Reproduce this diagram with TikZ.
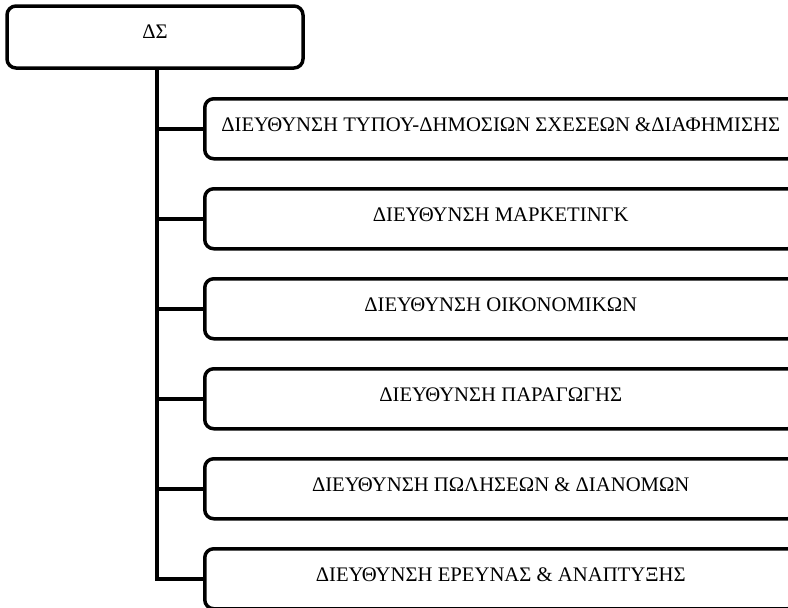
\documentclass[tikz,border=0pt]{standalone}
\usepackage{fontspec}
\setmainfont{Liberation Serif}
\usepackage{tikz}
\usetikzlibrary{positioning}
\tikzset{
  unit/.style={draw,line width=3.5pt,rounded corners=9pt,inner sep=0pt,
    minimum width=592pt,minimum height=60pt,text height=14pt,text depth=9pt,
    font=\fontsize{20.7}{24}\selectfont},
  board/.style={unit,minimum width=296pt,minimum height=62pt},
  link/.style={line width=4pt}
}
\begin{document}
\begin{tikzpicture}[x=1pt,y=-1pt]
  \useasboundingbox (0,0) rectangle (788,608);
  \clip (0,0) rectangle (788,608);
  \node[board,text depth=12pt] (ds) at (155,37) {ΔΣ};
  \foreach \name/\txt [count=\i] in {
      press/{ΔΙΕΥΘΥΝΣΗ ΤΥΠΟΥ-ΔΗΜΟΣΙΩΝ ΣΧΕΣΕΩΝ \&ΔΙΑΦΗΜΙΣΗΣ},
      mkt/{ΔΙΕΥΘΥΝΣΗ ΜΑΡΚΕΤΙΝΓΚ},
      fin/{ΔΙΕΥΘΥΝΣΗ ΟΙΚΟΝΟΜΙΚΩΝ},
      prod/{ΔΙΕΥΘΥΝΣΗ ΠΑΡΑΓΩΓΗΣ},
      sales/{ΔΙΕΥΘΥΝΣΗ ΠΩΛΗΣΕΩΝ \& ΔΙΑΝΟΜΩΝ},
      rnd/{ΔΙΕΥΘΥΝΣΗ ΕΡΕΥΝΑΣ \& ΑΝΑΠΤΥΞΗΣ}}
    \node[unit,anchor=north west] (\name) at (203,{97+90*(\i-1)}) {\txt};
  % spine from the board down to the last unit
  \coordinate (spine) at (157,0);
  \draw[link] (ds.south -| spine) |- (rnd.west);
  \foreach \name in {press,mkt,fin,prod,sales}
    \draw[link] (spine |- \name.west) -- (\name.west);
\end{tikzpicture}
\end{document}
